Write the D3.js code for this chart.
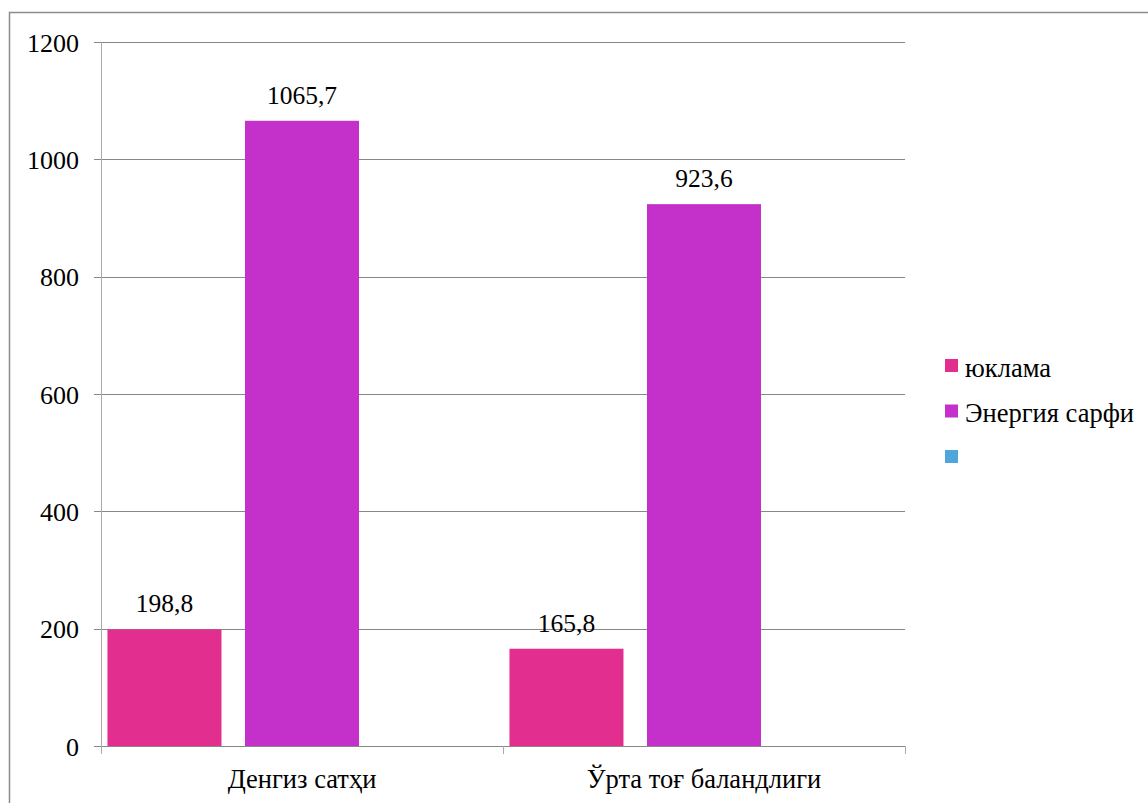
<!DOCTYPE html>
<html><head><meta charset="utf-8">
<script src="https://cdn.jsdelivr.net/npm/d3@7"></script>
<style>body{margin:0;background:#fff}svg{display:block}</style>
</head><body>
<svg id="c" width="1148" height="803"></svg>
<script>
const categories = ["Денгиз сатҳи", "Ўрта тоғ баландлиги"];
const seriesNames = ["юклама", "Энергия сарфи", ""];
const yuklama = [198.8, 165.8];
const energiya = [1065.7, 923.6];
const empty = [null, null];
const yTicks = [0, 200, 400, 600, 800, 1000, 1200];
const colors = ["#E22E8E", "#C431CA", "#4FA6DB"];

const FF = '"Liberation Serif"';
const svg = d3.select("#c");
// outer border
svg.append("rect").attr("x",9.5).attr("y",12.5).attr("width",1200).attr("height",900)
  .attr("fill","none").attr("stroke","#8c8c8c").attr("stroke-width",1.5);

const L=101, R=905, T=42, B=746;
const x = d3.scaleBand().domain(categories).range([L,R]);
const y = d3.scaleLinear().domain([0,1200]).range([B,T]);
const xs = d3.scaleBand().domain(d3.range(3)).range([0,x.bandwidth()]).paddingInner(0.171).paddingOuter(0.047);

// gridlines
svg.append("g").selectAll("line").data(yTicks).join("line")
  .attr("x1",L-7).attr("x2",R).attr("y1",d=>Math.round(y(d))+0.5).attr("y2",d=>Math.round(y(d))+0.5)
  .attr("stroke","#888").attr("stroke-width",1);
// y axis line
svg.append("line").attr("x1",L+0.5).attr("x2",L+0.5).attr("y1",T).attr("y2",B+8).attr("stroke","#aaa");
// category ticks
svg.append("g").selectAll("line").data([L, L+x.bandwidth(), R]).join("line")
  .attr("x1",d=>d+0.5).attr("x2",d=>d+0.5).attr("y1",B).attr("y2",B+8).attr("stroke","#aaa");
// y tick labels
svg.append("g").selectAll("text").data(yTicks).join("text")
  .attr("x",79).attr("y",d=>y(d)+9.5).attr("text-anchor","end")
  .style("font-family",FF).style("font-size","26px").attr("fill","#000").text(d=>d);

const series = [yuklama, energiya, empty];
series.forEach((vals,si)=>{
  const g = svg.append("g");
  const data = categories.map((c,i)=>({c, v: vals[i]})).filter(d=>d.v!=null);
  g.selectAll("rect").data(data).join("rect")
    .attr("x",d=>x(d.c)+xs(si)).attr("width",xs.bandwidth())
    .attr("y",d=>y(d.v)).attr("height",d=>B-y(d.v)).attr("fill",colors[si]);
  g.selectAll("text").data(data).join("text")
    .attr("x",d=>x(d.c)+xs(si)+xs.bandwidth()/2).attr("y",d=>y(d.v)-17)
    .attr("text-anchor","middle").style("font-family",FF).style("font-size","25.5px")
    .text(d=>String(d.v).replace(".",","));
});

// category labels
svg.append("g").selectAll("text").data(categories).join("text")
  .attr("x",d=>x(d)+x.bandwidth()/2).attr("y",788).attr("text-anchor","middle")
  .style("font-family",FF).style("font-size","26.5px").text(d=>d);

// legend
const lg = svg.append("g");
seriesNames.forEach((n,i)=>{
  const yy = 359 + i*45.5;
  lg.append("rect").attr("x",945).attr("y",yy).attr("width",13).attr("height",13).attr("fill",colors[i]);
  lg.append("text").attr("x",965).attr("y",yy+17.5).style("font-family",FF).style("font-size","26.5px").text(n);
});
</script>
</body></html>
